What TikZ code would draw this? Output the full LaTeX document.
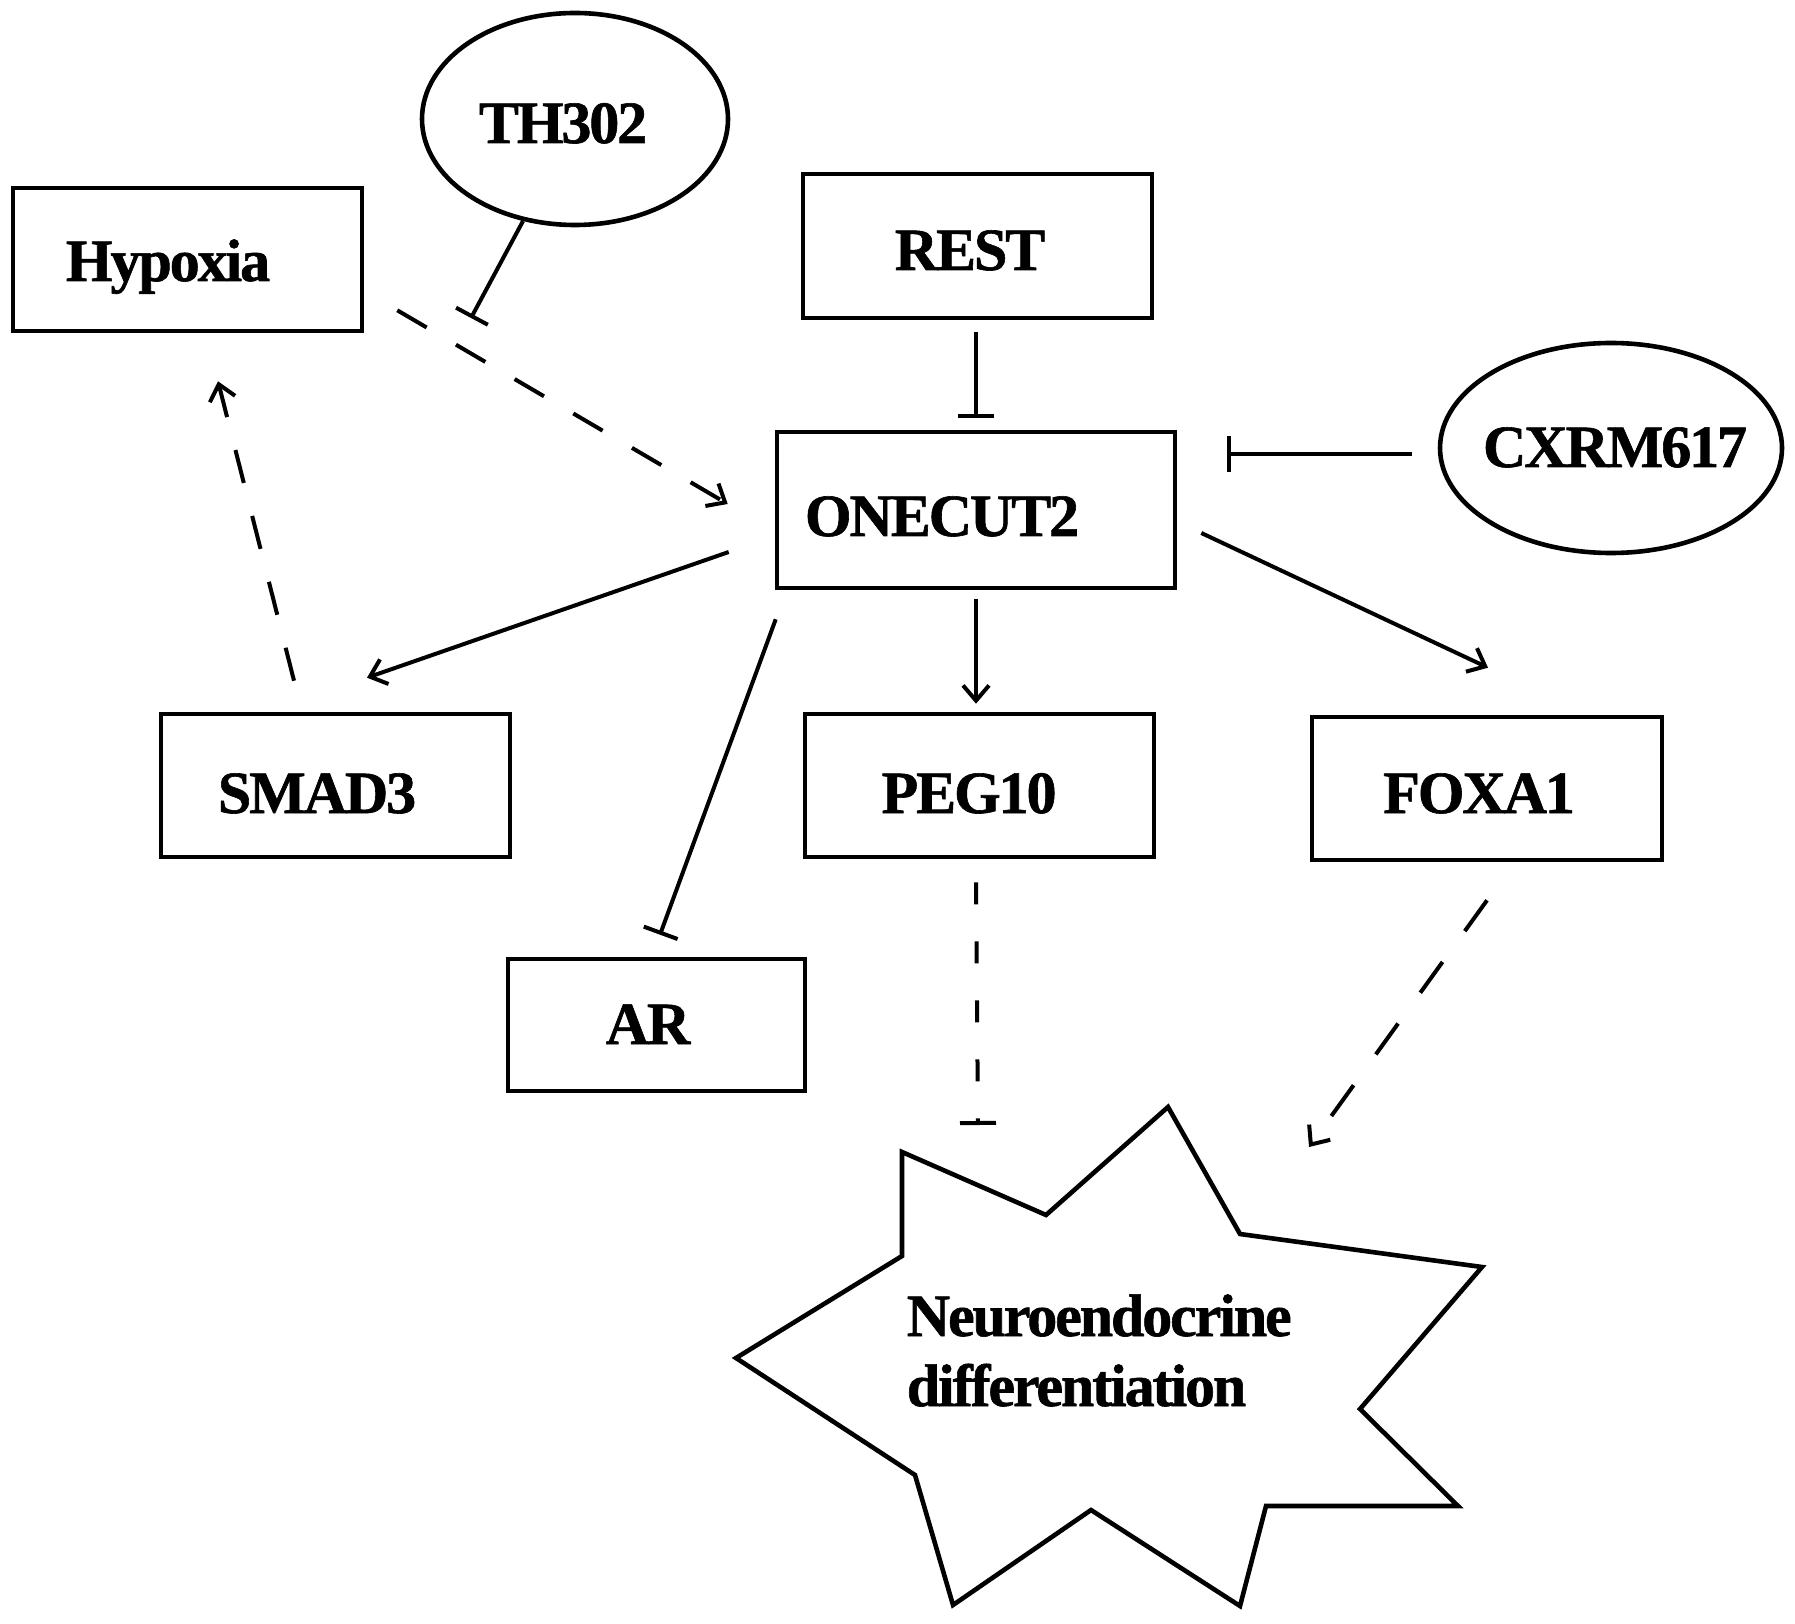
\documentclass[tikz,border=0pt]{standalone}
\usepackage{fontspec}
\newfontfamily\dfont{Liberation Serif}[LetterSpace=-3.5,BoldFeatures={FakeBold=1}]
\usetikzlibrary{arrows.meta,calc,shapes.geometric}
\begin{document}
\begin{tikzpicture}[x=0.25pt,y=-0.25pt,
  sz/.style 2 args={minimum width=#1*0.25pt,minimum height=#2*0.25pt},
  box/.style={draw,line width=1.15pt,rectangle,inner sep=0pt},
  oval/.style={draw,line width=1.15pt,ellipse,inner sep=0pt},
  txt/.style={font=\dfont\bfseries\fontsize{15}{17.5}\selectfont,inner sep=0pt,anchor=base},
  conn/.style={line width=1pt},
  act/.style={conn,-{Straight Barb[length=3.8pt,width=6.5pt,line width=1pt]}},
  inh/.style={conn,-{Bar[width=9pt,line width=1pt]}},
  dshA/.style={dash pattern=on 8.5pt off 8.5pt},
  dshB/.style={dash pattern=on 5.5pt off 9.25pt},
  dshC/.style={dash pattern=on 9.5pt off 9.5pt}]
\useasboundingbox (0,0) rectangle (1795,1624);
% boxes
\node[box,sz={349}{143}] (hyp) at (187.5,259.5) {};
\node[box,sz={349}{144}] (rest) at (977.5,246) {};
\node[box,sz={398}{156}] (one) at (976,510) {};
\node[box,sz={349}{143}] (smad) at (335.5,785.5) {};
\node[box,sz={349}{143}] (peg) at (979.5,785.5) {};
\node[box,sz={350}{143}] (foxa) at (1487,788.5) {};
\node[box,sz={297}{132}] (ar) at (656.5,1025) {};
\node[oval,sz={306}{212}] (th) at (575,119) {};
\node[oval,sz={342}{210}] (cx) at (1611,448) {};
% labels
\node[txt] (hypt) at (168,281) {Hypoxia};
\node[txt] (tht) at (563,143) {TH302};
\node[txt] (restt) at (970,270) {REST};
\node[txt] (onet) at (942,536) {ONECUT2};
\node[txt] (cxt) at (1615,467) {CXRM617};
\node[txt] (smadt) at (317,813) {SMAD3};
\node[txt] (pegt) at (969,813) {PEG10};
\node[txt] (foxat) at (1479,813) {FOXA1};
\node[txt] (art) at (648,1044) {AR};
% star
\draw[line width=1.15pt] (902,1152) -- (1046,1215) -- (1168,1107) -- (1240,1234) -- (1482,1267)
  -- (1360,1409) -- (1458,1506) -- (1266,1506) -- (1240,1606) -- (1091,1510) -- (953,1605)
  -- (915,1475) -- (736,1358) -- (902,1256) -- cycle;
\node[txt,anchor=base west,align=left] (neuro) at (906,1406) {Neuroendocrine\\differentiation};
% free ends
\coordinate (thbar) at (471,318);
\coordinate (pegend) at (978,1125);
\coordinate (foxaend) at (1309,1147);
\coordinate (cxs) at ($(cx.west)+(-26,6)$);
% connectors
\draw[inh] (th.243) -- (thbar);
\draw[inh] ($(rest.south)+(-1.5,12)$) -- ($(one.north)+(0,-12)$);
\draw[inh] (cxs) -- ($(cxs -| one.east)+(50,0)$);
\draw[act,dshA] ($(hyp.south east)+(33,-23)$) -- ($(one.west)+(-47,-6)$);
\draw[act] ($(one.west)+(-46,42)$) -- ($(smad.north)+(31.5,-34)$);
\draw[act,dshA] ($(smad.north)+(-41.5,-31)$) -- ($(hyp.south)+(30.5,48)$);
\draw[inh] ($(one.south west)+(1,29)$) -- ($(ar.north)+(3.5,-22)$);
\draw[act] ($(one.south)+(0,9)$) -- ($(peg.north)+(-3.5,-8)$);
\draw[act] ($(one.east)+(24,23)$) -- ($(foxa.north)+(1,-47)$);
\draw[inh,dshB] ($(peg.south)+(-3.5,23)$) -- (pegend);
\draw[act,dshC] ($(foxa.south)+(0,38)$) -- (foxaend);
\end{tikzpicture}
\end{document}
